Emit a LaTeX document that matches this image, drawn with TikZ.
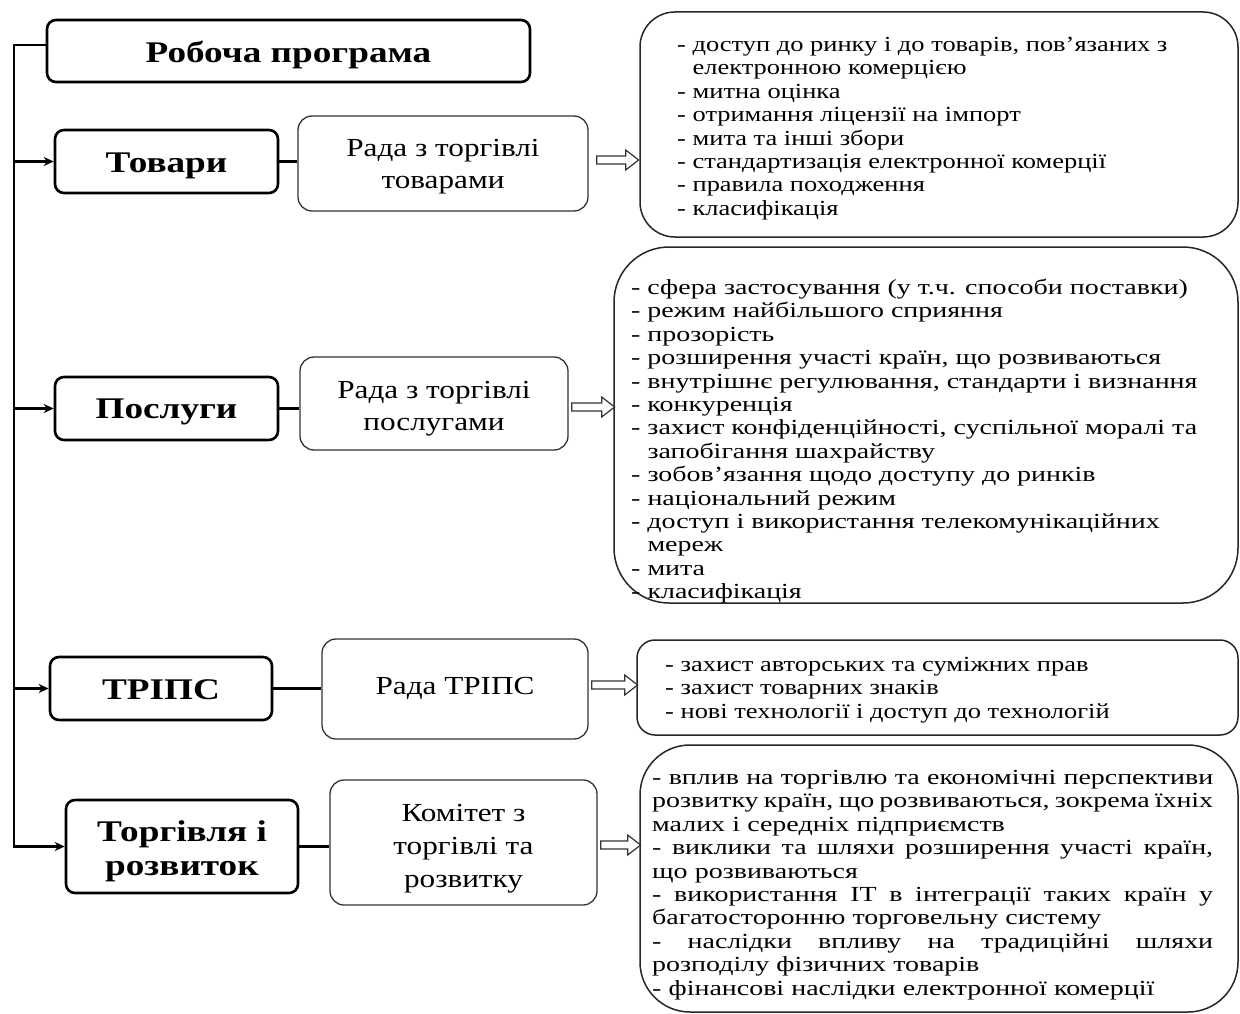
\documentclass[tikz,border=0pt]{standalone}
\usepackage{fontspec}
\setmainfont{Liberation Serif}
\newfontfamily\listfont[FakeStretch=1.3]{Liberation Serif}
\newfontfamily\listfontb[FakeStretch=1.23]{Liberation Serif}
\newfontfamily\labelfont[FakeStretch=1.24]{Liberation Serif}
\newfontfamily\councilfont[FakeStretch=1.2]{Liberation Serif}
\newcommand\myjline[1]{\makebox[561pt][s]{\spaceskip=\fontdimen2\font plus 100pt minus 3pt\relax #1}}
\usetikzlibrary{arrows.meta,calc}
\begin{document}
\begin{tikzpicture}[x=1pt,y=-1pt,
  mainbox/.style={draw, line width=2.6pt, rounded corners=9pt, inner sep=0pt},
  maintext/.style={align=center, inner sep=0pt, font=\labelfont\bfseries\fontsize{30}{34}\selectfont},
  council/.style={draw=black!80, line width=1.3pt, rounded corners=14pt, inner sep=0pt},
  counciltext/.style={align=center, inner sep=0pt, font=\councilfont\fontsize{26}{32}\selectfont},
  listbox/.style={draw=black!85, line width=1.5pt, inner sep=0pt},
  listtext/.style={anchor=north west, align=left, inner sep=0pt, font=\listfont\fontsize{21.5}{23.4}\selectfont},
  listtextb/.style={anchor=north west, align=left, inner sep=0pt, font=\listfontb\fontsize{21.5}{23.4}\selectfont},
  link/.style={line width=2.2pt},
  feed/.style={line width=2.2pt, -{Stealth[length=10pt,width=9pt]}},
  hollow/.style={draw=black!80, line width=1.2pt, fill=white, line join=miter}
]
\useasboundingbox (0,0) rectangle (1240,1014);

% left column boxes
\node[mainbox, minimum width=483pt, minimum height=62pt] (prog) at (288.5,51) {};
\node[mainbox, minimum width=223pt, minimum height=63pt] (tov) at (166.5,161.5) {};
\node[mainbox, minimum width=223pt, minimum height=63pt] (posl) at (166.5,408.5) {};
\node[mainbox, minimum width=222pt, minimum height=63pt] (trips) at (161,688.5) {};
\node[mainbox, minimum width=232pt, minimum height=93pt] (torg) at (182,846.5) {};
\node[maintext] (progt) at ($(prog.center)+(0,4)$) {Робоча програма};
\node[maintext] (tovt) at ($(tov.center)+(0,4)$) {Товари};
\node[maintext] (poslt) at ($(posl.center)+(0,3)$) {Послуги};
\node[maintext] (tripst) at ($(trips.center)+(0,1)$) {ТРІПС};
\node[maintext] (torgt) at ($(torg.center)+(0,5)$) {Торгівля і\\розвиток};

% councils
\node[council, minimum width=290pt, minimum height=95pt] (radatov) at (443,163.5) {};
\node[council, minimum width=268pt, minimum height=93pt] (radaposl) at (434,403.5) {};
\node[council, minimum width=266pt, minimum height=100pt] (radatrips) at (455,689) {};
\node[council, minimum width=267pt, minimum height=125pt] (komitet) at (463.5,842.5) {};
\node[counciltext] (radatovt) at ($(radatov.center)+(0,3)$) {Рада з торгівлі\\товарами};
\node[counciltext] (radaposlt) at ($(radaposl.center)+(0,5)$) {Рада з торгівлі\\послугами};
\node[counciltext] (radatripst) at ($(radatrips.center)+(0,-1)$) {Рада ТРІПС};
\node[counciltext, font=\councilfont\fontsize{26}{33}\selectfont] (komitett) at ($(komitet.center)+(0,6)$) {Комітет з\\торгівлі та\\розвитку};

% list boxes
\node[listbox, rounded corners=35pt, minimum width=598pt, minimum height=225pt] (list1) at (939,124.5) {};
\node[listbox, rounded corners=55pt, minimum width=624pt, minimum height=356pt] (list2) at (926,425) {};
\node[listbox, rounded corners=18pt, minimum width=601pt, minimum height=95pt] (list3) at (937.5,687.5) {};
\node[listbox, rounded corners=50pt, minimum width=598pt, minimum height=267pt] (list4) at (939,878.5) {};

\node[listtextb] (txt1) at (677,37) {%
- доступ до ринку і до товарів, пов’язаних з\\
\hphantom{-\ }електронною комерцією\\
- митна оцінка\\
- отримання ліцензії на імпорт\\
- мита та інші збори\\
- стандартизація електронної комерції\\
- правила походження\\
- класифікація};

\node[listtext] (txt2) at (631,279) {%
- сфера застосування (у т.ч. способи поставки)\\
- режим найбільшого сприяння\\
- прозорість\\
- розширення участі країн, що розвиваються\\
- внутрішнє регулювання, стандарти і визнання\\
- конкуренція\\
- захист конфіденційності, суспільної моралі та\\
\hphantom{-\ }запобігання шахрайству\\
- зобов’язання щодо доступу до ринків\\
- національний режим\\
- доступ і використання телекомунікаційних\\
\hphantom{-\ }мереж\\
- мита\\
- класифікація};

\node[listtextb] (txt3) at (665,657) {%
- захист авторських та суміжних прав\\
- захист товарних знаків\\
- нові технології і доступ до технологій};

\node[listtext, text width=561pt] (txt4) at (652,770) {%
\myjline{- вплив на торгівлю та економічні перспективи}\\
\myjline{розвитку країн, що розвиваються, зокрема їхніх}\\
малих і середніх підприємств\\
\myjline{- виклики та шляхи розширення участі країн,}\\
що розвиваються\\
\myjline{- використання IT в інтеграції таких країн у}\\
багатосторонню торговельну систему\\
\myjline{- наслідки впливу на традиційні шляхи}\\
розподілу фізичних товарів\\
- фінансові наслідки електронної комерції};

% trunk and feeds
\coordinate (trunk) at (14,45);
\draw[feed] (prog.west |- trunk) -- (trunk) -- (trunk |- torg.west) -- (torg.west);
\draw[feed] (trunk |- tov.west) -- (tov.west);
\draw[feed] (trunk |- posl.west) -- (posl.west);
\draw[feed] (trunk |- trips.west) -- (trips.west);

% label to council links
\draw[link] (tov.east) -- (tov.east -| radatov.west);
\draw[link] (posl.east) -- (posl.east -| radaposl.west);
\draw[link] (trips.east) -- (trips.east -| radatrips.west);
\draw[link] (torg.east) -- (torg.east -| komitet.west);

% hollow block arrows
\draw[hollow] ($(radatov.east)+(8,-7.5)$) -- ++(29,0) -- ++(0,-6) -- ++(13,10) -- ++(-13,10) -- ++(0,-6) -- ++(-29,0) -- cycle;
\draw[hollow] ($(radaposl.east)+(3,-0.5)$) -- ++(30,0) -- ++(0,-6) -- ++(13,10) -- ++(-13,10) -- ++(0,-6) -- ++(-30,0) -- cycle;
\draw[hollow] ($(radatrips.east)+(3,-8)$) -- ++(33,0) -- ++(0,-6) -- ++(13,10) -- ++(-13,10) -- ++(0,-6) -- ++(-33,0) -- cycle;
\draw[hollow] ($(komitet.east)+(3,-1.5)$) -- ++(27,0) -- ++(0,-6) -- ++(13,10) -- ++(-13,10) -- ++(0,-6) -- ++(-27,0) -- cycle;
\end{tikzpicture}
\end{document}
